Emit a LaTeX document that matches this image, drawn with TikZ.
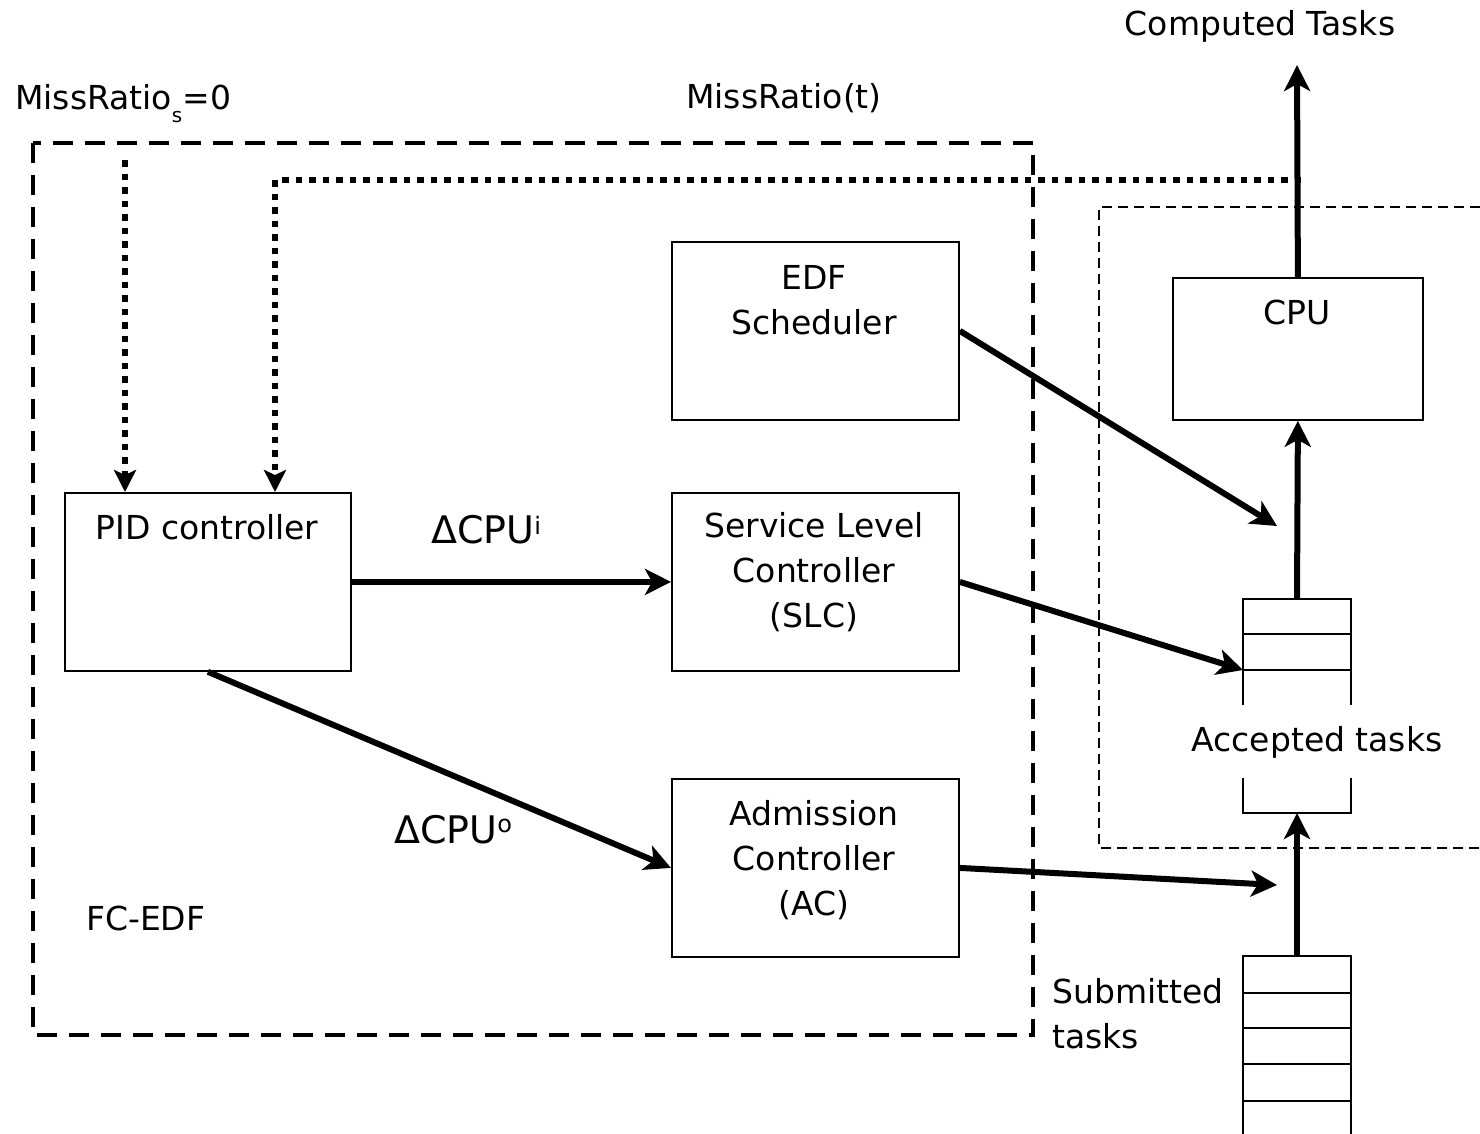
\documentclass[tikz,border=0pt]{standalone}
\usepackage{fontspec}
\setmainfont{DejaVu Sans}
\usetikzlibrary{arrows.meta}
\begin{document}
\begin{tikzpicture}[x=1pt,y=-1pt,
  box/.style={draw,line width=1.8pt,inner sep=0pt,anchor=north west},
  lbl/.style={font=\fontsize{33pt}{45pt}\selectfont,align=center,inner sep=0pt},
  lbll/.style={lbl,align=left,anchor=west},
  thickarrow/.style={line width=6pt,-{Stealth[length=26pt,width=26pt,inset=7pt]}},
  dotline/.style={line width=6.5pt,dash pattern=on 6.5pt off 7pt},
  dotarrow/.style={dotline,-{Stealth[length=22pt,width=22pt,inset=5pt]}},
  bigdash/.style={line width=4.2pt,dash pattern=on 20pt off 12pt},
  smalldash/.style={line width=1.8pt,dash pattern=on 10pt off 6pt},
  queue/.style={line width=1.8pt}
]
\useasboundingbox (0,0) rectangle (1480,1133);

% frames
\draw[bigdash] (33,143) rectangle (1033,1035);
\draw[smalldash] (1480,207) -- (1099,207) -- (1099,848) -- (1480,848);

% boxes
\node[box,minimum width=287pt,minimum height=178pt] (edf) at (671,241) {};
\node[box,minimum width=287pt,minimum height=178pt] (slc) at (671,492) {};
\node[box,minimum width=287pt,minimum height=178pt] (ac) at (671,778) {};
\node[box,minimum width=286pt,minimum height=178pt] (pid) at (64,492) {};
\node[box,minimum width=250pt,minimum height=142pt] (cpu) at (1172,277) {};

% box texts
\node[lbl] (edft) at (814,300) {EDF\\Scheduler};
\node[lbl] (slct) at (814,572) {Service Level\\Controller\\(SLC)};
\node[lbl] (act) at (814,860) {Admission\\Controller\\(AC)};
\node[lbl] (pidt) at (207,527) {PID controller};
\node[lbl] (cput) at (1297,312) {CPU};

% other texts
\node[lbl] (comp) at (1260,26) {Computed Tasks};
\node[lbll] (msr) at (15,104) {MissRatio\raisebox{-13pt}{\fontsize{20pt}{20pt}\selectfont s}=0};
\node[lbl] (mrt) at (784,98) {MissRatio(t)};
\node[lbl] (acct) at (1317,742) {Accepted tasks};
\node[lbll] (fcedf) at (86,918) {FC-EDF};
\node[lbll] (subt) at (1052,1014) {Submitted\\tasks};
\node[lbl,font=\fontsize{38pt}{45pt}\selectfont] (dcpui) at (486,530) {ΔCPU\raisebox{9pt}{\fontsize{24pt}{24pt}\selectfont i}};
\node[lbl,font=\fontsize{38pt}{45pt}\selectfont] (dcpuo) at (453,830) {ΔCPU\raisebox{11pt}{\fontsize{24pt}{24pt}\selectfont o}};

% queues
\draw[queue] (1243,705) -- (1243,599) -- (1351,599) -- (1351,705);
\draw[queue] (1243,634) -- (1351,634);
\draw[queue] (1243,670) -- (1351,670);
\draw[queue] (1243,778) -- (1243,813) -- (1351,813) -- (1351,778);
\draw[queue] (1243,1140) -- (1243,956) -- (1351,956) -- (1351,1140);
\foreach \yy in {993,1028,1064,1101} \draw[queue] (1243,\yy) -- (1351,\yy);

\coordinate (accTop) at (1297,599);
\coordinate (accBot) at (1297,813);
\coordinate (accIn) at (1243,670);
\coordinate (subTop) at (1297,956);
\coordinate (outTip) at (1297,65);
\coordinate (edfTip) at (1277,526);
\coordinate (acTip) at (1277,885);
\coordinate (spStart) at (125,160);
\coordinate (fbStart) at (1301,180);
\coordinate (pidIn) at (275,492);

% dotted feedback
\draw[dotarrow] (spStart) -- (spStart |- pid.north);
\draw[dotarrow] (fbStart) -| (pidIn);

% thick arrows
\draw[thickarrow] (cpu.north) -- (outTip);
\draw[thickarrow] (accTop) -- (cpu.south);
\draw[thickarrow] (subTop) -- (accBot);
\draw[thickarrow] (pid.east) -- (slc.west);
\draw[thickarrow] (pid.south) -- (ac.west);
\draw[thickarrow] (edf.east) -- (edfTip);
\draw[thickarrow] (slc.east) -- (accIn);
\draw[thickarrow] (ac.east) -- (acTip);
\end{tikzpicture}
\end{document}
